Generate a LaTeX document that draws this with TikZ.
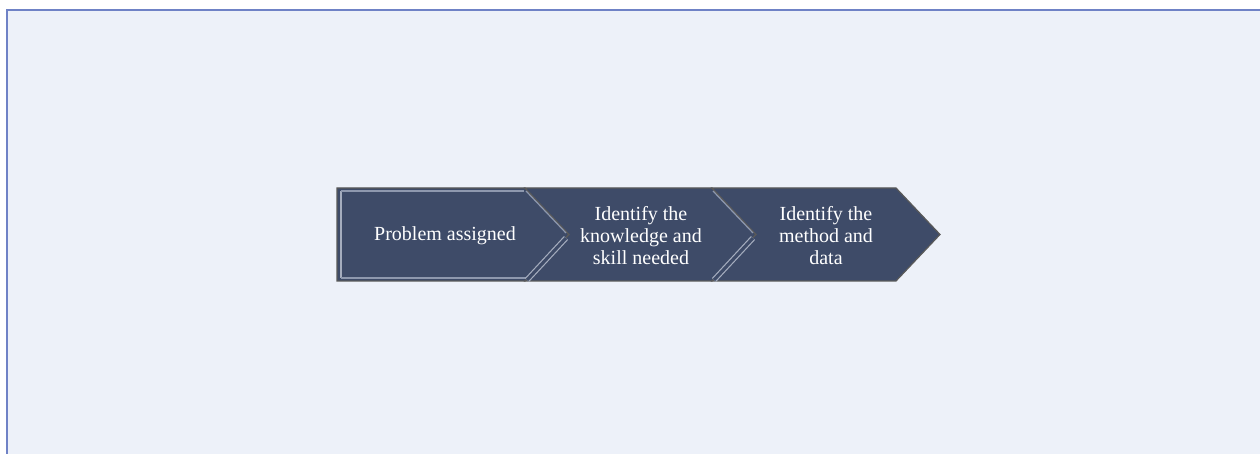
\documentclass[tikz,border=0pt]{standalone}
\usepackage{fontspec}
\setmainfont{Liberation Serif}
\usetikzlibrary{calc}
\definecolor{pagebg}{HTML}{EDF1F9}
\definecolor{frameline}{HTML}{6F82C6}
\definecolor{slate}{HTML}{3E4B68}
\definecolor{bevel}{HTML}{8E98AE}
\tikzset{
  chevron/.style={fill=slate, draw=black!65, line width=0.6pt},
  bevelline/.style={draw=bevel, line width=0.6pt},
  seam/.style={draw=bevel!80!white, line width=0.6pt, double=slate, double distance=1.6pt},
  steplabel/.style={align=center, text=white, font=\fontsize{10}{11}\selectfont}
}
\begin{document}
\begin{tikzpicture}[x=0.5pt,y=0.5pt]
        \useasboundingbox (0,0) rectangle (1260,454);
        \fill[white] (0,0) rectangle (1260,454);
        \begin{scope}
        \clip (0,0) rectangle (1260,454);
        \draw[fill=pagebg, draw=frameline, line width=1pt] (7,-5) rectangle (1270,444);
        \end{scope}
        % the three steps
        \draw[chevron] (337,266) -- (525,266) -- (569,219.5) -- (525,173) -- (337,173) -- cycle;
        \draw[chevron] (525,266) -- (712,266) -- (756,219.5) -- (712,173) -- (525,173) -- (569,219.5) -- cycle;
        \draw[chevron] (712,266) -- (896,266) -- (940,219.5) -- (896,173) -- (712,173) -- (756,219.5) -- cycle;
        % light bevel edges
        \draw[bevelline, draw=bevel!80!white] (341,176) -- (341,263);
        \draw[bevelline] (341,263) -- (524,263);
        \draw[bevelline] (341,176) -- (526,176);
        \draw[bevelline] (526,263) -- (566,221);
        \draw[bevelline] (713,263) -- (753,221);
        \draw[seam] (527,174) -- (566,216);
        \draw[seam] (714,174) -- (753,216);
        % labels
        \node[steplabel] (problem) at (445,218.5) {Problem assigned};
        \node[steplabel] (knowledge) at (641,218.5) {Identify the\\knowledge and\\skill needed};
        \node[steplabel] (method) at (826,218.5) {Identify the\\method and\\data};
\end{tikzpicture}
\end{document}
